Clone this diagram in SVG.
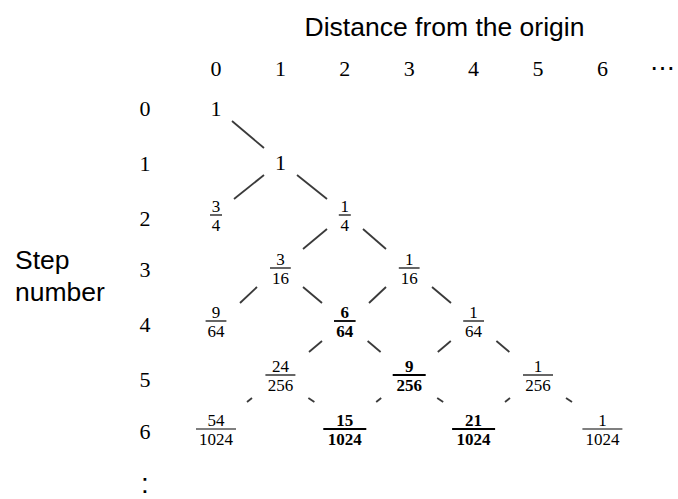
<svg xmlns="http://www.w3.org/2000/svg" width="678" height="499" viewBox="0 0 678 499">
<style>
.sans{font-family:"Liberation Sans",Arial,sans-serif;font-size:26.5px;fill:#000}
.m{font-family:"Liberation Serif","Times New Roman",serif;font-size:22px;fill:#000;text-anchor:middle}
.f{font-family:"Liberation Serif","Times New Roman",serif;font-size:17px;fill:#000;text-anchor:middle}
.fb{font-family:"Liberation Serif","Times New Roman",serif;font-size:17px;font-weight:bold;fill:#000;text-anchor:middle}
.bar{stroke:#000;stroke-width:1.2}
.barb{stroke:#000;stroke-width:1.8}
.conn line{stroke:#3a3a3a;stroke-width:1.8}
</style>
<rect width="678" height="499" fill="#fff"/>
<g id="title"><text class="sans" x="444.5" y="36" text-anchor="middle">Distance from the origin</text></g>
<g id="axis-label"><text class="sans" x="15" y="269">Step</text><text class="sans" x="15" y="301">number</text></g>
<g id="col-headers">
<text class="m" x="216" y="76">0</text>
<text class="m" x="280.4" y="76">1</text>
<text class="m" x="344.8" y="76">2</text>
<text class="m" x="409.2" y="76">3</text>
<text class="m" x="473.6" y="76">4</text>
<text class="m" x="538" y="76">5</text>
<text class="m" x="602.4" y="76">6</text>
<text x="662" y="76" style="font-family:'DejaVu Serif',serif;font-size:25px;text-anchor:middle">⋯</text>
</g>
<g id="row-headers">
<text class="m" x="145" y="116">0</text>
<text class="m" x="145" y="171">1</text>
<text class="m" x="145" y="225.5">2</text>
<text class="m" x="145" y="276.5">3</text>
<text class="m" x="145" y="331.5">4</text>
<text class="m" x="145" y="386.5">5</text>
<text class="m" x="145" y="439">6</text>
<text x="145" y="492.5" style="font-family:'Liberation Sans',Arial,sans-serif;font-size:28px;text-anchor:middle">:</text>
</g>
<g class="conn" id="connectors">
<line x1="232" y1="121" x2="264" y2="148"/>
<line x1="264" y1="175" x2="234" y2="199"/>
<line x1="297" y1="175" x2="327" y2="199"/>
<line x1="327" y1="229" x2="303" y2="249"/>
<line x1="363" y1="229" x2="386" y2="249"/>
<line x1="257" y1="287" x2="240" y2="303"/>
<line x1="303" y1="287" x2="322" y2="303"/>
<line x1="386" y1="287" x2="369" y2="303"/>
<line x1="432" y1="287" x2="451" y2="303"/>
<line x1="322" y1="341" x2="309" y2="352"/>
<line x1="367.6" y1="341" x2="380.6" y2="352"/>
<line x1="450.8" y1="341" x2="437.8" y2="352"/>
<line x1="496.4" y1="341" x2="509.4" y2="352"/>
<line x1="252" y1="398" x2="247" y2="402"/>
<line x1="308.4" y1="398" x2="314.4" y2="402"/>
<line x1="381.2" y1="398" x2="376.2" y2="402"/>
<line x1="437.2" y1="398" x2="443.2" y2="402"/>
<line x1="510" y1="398" x2="505" y2="402"/>
<line x1="566" y1="398" x2="572" y2="402"/>
</g>
<g id="n-0-0"><text class="m" x="216" y="116">1</text></g>
<g id="n-1-1"><text class="m" x="280.4" y="170">1</text></g>
<g id="n-2-0"><text class="f" x="216" y="212">3</text><line class="bar" x1="210" y1="215" x2="222" y2="215"/><text class="f" x="216" y="231">4</text></g>
<g id="n-2-2"><text class="f" x="344.8" y="212">1</text><line class="bar" x1="338.8" y1="215" x2="350.8" y2="215"/><text class="f" x="344.8" y="231">4</text></g>
<g id="n-3-1"><text class="f" x="280.4" y="265">3</text><line class="bar" x1="270" y1="268" x2="290.8" y2="268"/><text class="f" x="280.4" y="284">16</text></g>
<g id="n-3-3"><text class="f" x="409.2" y="265">1</text><line class="bar" x1="398.8" y1="268" x2="419.6" y2="268"/><text class="f" x="409.2" y="284">16</text></g>
<g id="n-4-0"><text class="f" x="216" y="318">9</text><line class="bar" x1="205.6" y1="321" x2="226.4" y2="321"/><text class="f" x="216" y="337">64</text></g>
<g id="n-4-2"><text class="fb" x="344.8" y="318">6</text><line class="barb" x1="334" y1="321" x2="355.6" y2="321"/><text class="fb" x="344.8" y="337">64</text></g>
<g id="n-4-4"><text class="f" x="473.6" y="318">1</text><line class="bar" x1="463.2" y1="321" x2="484" y2="321"/><text class="f" x="473.6" y="337">64</text></g>
<g id="n-5-1"><text class="f" x="280.4" y="372">24</text><line class="bar" x1="265.4" y1="375" x2="295.4" y2="375"/><text class="f" x="280.4" y="391">256</text></g>
<g id="n-5-3"><text class="fb" x="409.2" y="372">9</text><line class="barb" x1="392.7" y1="375" x2="425.7" y2="375"/><text class="fb" x="409.2" y="391">256</text></g>
<g id="n-5-5"><text class="f" x="538" y="372">1</text><line class="bar" x1="523" y1="375" x2="553" y2="375"/><text class="f" x="538" y="391">256</text></g>
<g id="n-6-0"><text class="f" x="216" y="426">54</text><line class="bar" x1="196" y1="429" x2="236" y2="429"/><text class="f" x="216" y="445">1024</text></g>
<g id="n-6-2"><text class="fb" x="344.8" y="426">15</text><line class="barb" x1="323.3" y1="429" x2="366.3" y2="429"/><text class="fb" x="344.8" y="445">1024</text></g>
<g id="n-6-4"><text class="fb" x="473.6" y="426">21</text><line class="barb" x1="452.1" y1="429" x2="495.1" y2="429"/><text class="fb" x="473.6" y="445">1024</text></g>
<g id="n-6-6"><text class="f" x="602.4" y="426">1</text><line class="bar" x1="582.4" y1="429" x2="622.4" y2="429"/><text class="f" x="602.4" y="445">1024</text></g>
</svg>
